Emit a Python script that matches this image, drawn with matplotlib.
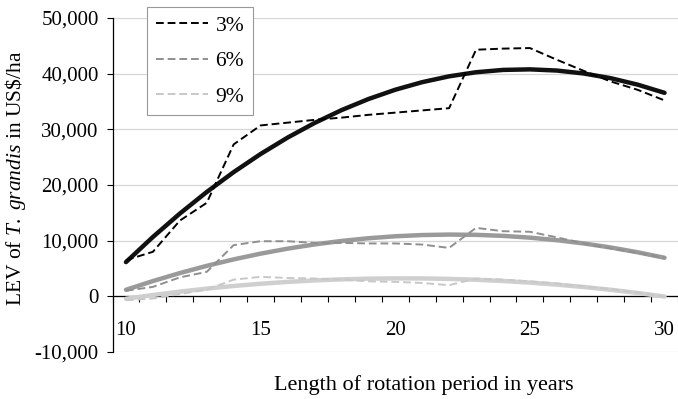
import numpy as np
import matplotlib.pyplot as plt
from matplotlib.ticker import FuncFormatter

plt.rcParams['font.family'] = ['Liberation Serif', 'DejaVu Serif']
plt.rcParams['mathtext.fontset'] = 'custom'
plt.rcParams['mathtext.rm'] = 'Liberation Serif'
plt.rcParams['mathtext.it'] = 'Liberation Serif:italic'

# Rotation length (years) and land expectation value (US$/ha) per discount rate
years = list(range(10, 31))
lev_3 = [6500, 8000, 13600, 16800, 27300, 30700, 31200, 31700, 32100, 32600, 33000,
         33400, 33800, 44300, 44500, 44600, 42500, 40500, 38600, 37100, 35200]
lev_6 = [1000, 1700, 3400, 4400, 9200, 9900, 9900, 9600, 9600, 9500, 9500,
         9300, 8700, 12300, 11700, 11600, 10600, 9500, 8600, 7800, 6900]
lev_9 = [-700, -400, 400, 1200, 3000, 3500, 3300, 3200, 3000, 2700, 2600,
         2400, 2000, 3200, 3000, 2700, 2300, 1800, 1300, 700, -100]

series = [('3%', lev_3, '#000000', '#111111'),
          ('6%', lev_6, '#8f8f8f', '#9a9a9a'),
          ('9%', lev_9, '#c8c8c8', '#cfcfcf')]
x_labels = [10, 15, 20, 25, 30]

fig = plt.figure(figsize=(6.78, 3.99), dpi=100)
ax = fig.add_axes([112.5 / 678, 1 - 352 / 399, 1 - 112.5 / 678, (352 - 18) / 399])

x = np.array(years)
handles = []
for name, vals, c_dash, c_trend in series:
    # polynomial (2nd order) trend line, as in the original chart
    coef = np.polyfit(x, vals, 2)
    ax.plot(x, np.polyval(coef, x), color=c_trend, lw=3.2, solid_capstyle='round', zorder=3)
    h, = ax.plot(x, vals, color=c_dash, lw=1.4, dashes=(4, 2), label=name, zorder=4)
    handles.append(h)

ax.set_xlim(9.5, 30.28)
ax.set_ylim(-10000, 50000)

ax.set_yticks(np.arange(-10000, 50001, 10000))
ax.yaxis.set_major_formatter(FuncFormatter(lambda v, p: f'{int(v):,}'))
ax.yaxis.grid(True, color='#d6d6d6', lw=0.9)
ax.set_axisbelow(True)
ax.tick_params(axis='y', direction='out', length=4, width=0.8, pad=6, labelsize=15)

ax.set_xticks(np.arange(9.5, 31, 1))
ax.set_xticklabels([])
ax.tick_params(axis='x', direction='out', length=4, width=0.8)
ax.spines['bottom'].set_position(('data', 0))
for s in ['top', 'right']:
    ax.spines[s].set_visible(False)
ax.spines['left'].set_linewidth(0.9)
ax.spines['bottom'].set_linewidth(0.9)

for v in x_labels:
    ax.text(v, -6100, str(v), ha='center', va='center', fontsize=15)

fig.text(16 / 678, 1 - 178 / 399, r'LEV of $\mathit{T.\ grandis}$ in US\$/ha',
         rotation=90, ha='center', va='center', fontsize=15.5)
fig.text(424 / 678, 1 - 385 / 399, 'Length of rotation period in years',
         ha='center', va='center', fontsize=16)

leg = fig.legend(handles=handles, loc='upper left', bbox_to_anchor=(147 / 678, 1 - 7 / 399),
                 bbox_transform=fig.transFigure, borderaxespad=0, fontsize=15.5,
                 handlelength=2.45, handletextpad=0.33, labelspacing=0.72, borderpad=0.4,
                 fancybox=False, framealpha=1)
leg.get_frame().set_edgecolor('#999999')
leg.get_frame().set_linewidth(0.8)

fig.savefig('out.png', dpi=100)
